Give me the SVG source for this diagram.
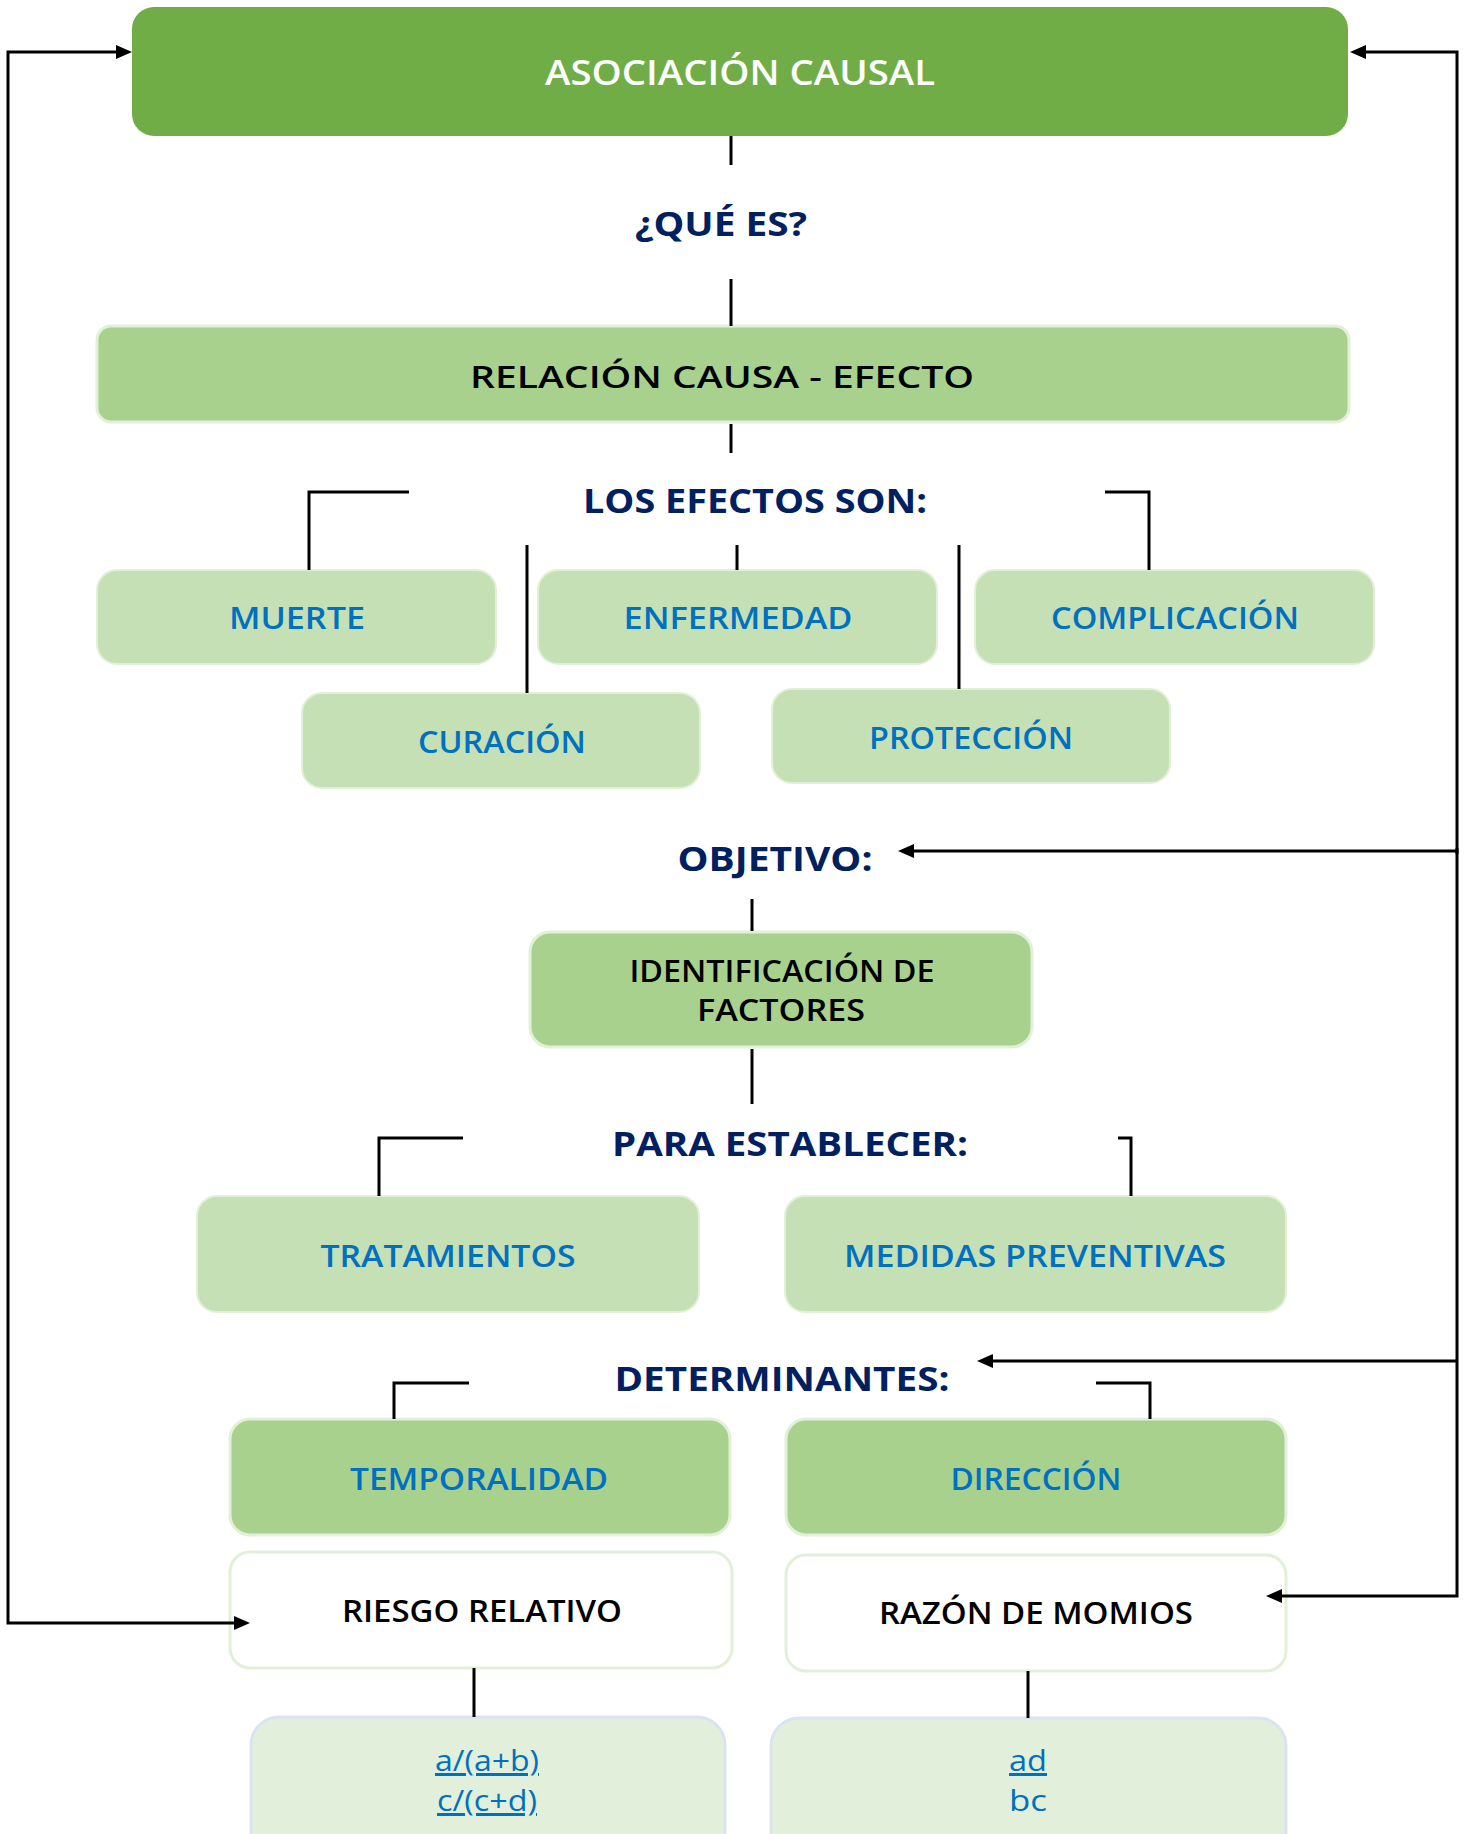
<svg xmlns="http://www.w3.org/2000/svg" width="1471" height="1834" viewBox="0 0 1471 1834">
<style>
text{font-family:"Open Sans","Noto Sans","Liberation Sans",sans-serif;text-anchor:middle}
.hd{fill:#002060;font-weight:700;font-size:34px}
.bl{fill:#0070C0;font-weight:600;font-size:31px}
.bk{fill:#000;font-weight:600;font-size:31px}
.fm{fill:#0070C0;font-weight:500;font-size:30px}
.ln{stroke:#000;stroke-width:3;fill:none}
.dark{fill:#A9D18E;stroke:#E2F0D9;stroke-width:3}
.light{fill:#C5E0B4;stroke:#E2F0D9;stroke-width:2}
.white{fill:#fff;stroke:#E2F0D9;stroke-width:3}
.frm{fill:#E2EFDA;stroke:#DAE3F3;stroke-width:3}
</style>
<defs>
<marker id="ah" markerWidth="16" markerHeight="14" refX="11" refY="7" orient="auto-start-reverse" markerUnits="userSpaceOnUse">
<path d="M0,0 L16,7 L0,14 z" fill="#000"/>
</marker>
</defs>

<g id="asociacion">
<rect x="132" y="7" width="1216" height="129" rx="22" fill="#70AD47"/>
<text x="740" y="85" font-size="35" font-weight="600" fill="#fff" textLength="390" lengthAdjust="spacingAndGlyphs">ASOCIACIÓN CAUSAL</text>
</g>
<g id="que-es"><text class="hd" x="721" y="236" font-size="35" textLength="172" lengthAdjust="spacingAndGlyphs">¿QUÉ ES?</text></g>
<g id="relacion">
<rect class="dark" x="97" y="326" width="1252" height="96" rx="14"/>
<text class="bk" x="722" y="388" font-size="33" textLength="504" lengthAdjust="spacingAndGlyphs">RELACIÓN CAUSA - EFECTO</text>
</g>
<g id="efectos"><text class="hd" x="755" y="513" textLength="344" lengthAdjust="spacingAndGlyphs">LOS EFECTOS SON:</text></g>
<g id="muerte">
<rect class="light" x="97" y="570" width="399" height="94" rx="20"/>
<text class="bl" x="297" y="629" textLength="136" lengthAdjust="spacingAndGlyphs">MUERTE</text>
</g>
<g id="enfermedad">
<rect class="light" x="538" y="570" width="399" height="94" rx="20"/>
<text class="bl" x="738" y="629" textLength="229" lengthAdjust="spacingAndGlyphs">ENFERMEDAD</text>
</g>
<g id="complicacion">
<rect class="light" x="975" y="570" width="399" height="94" rx="20"/>
<text class="bl" x="1175" y="629" textLength="248" lengthAdjust="spacingAndGlyphs">COMPLICACIÓN</text>
</g>
<g id="curacion">
<rect class="light" x="302" y="693" width="398" height="95" rx="20"/>
<text class="bl" x="502" y="753" textLength="168" lengthAdjust="spacingAndGlyphs">CURACIÓN</text>
</g>
<g id="proteccion">
<rect class="light" x="772" y="689" width="398" height="94" rx="20"/>
<text class="bl" x="971" y="749" textLength="204" lengthAdjust="spacingAndGlyphs">PROTECCIÓN</text>
</g>
<g id="objetivo"><text class="hd" x="775" y="871" textLength="195" lengthAdjust="spacingAndGlyphs">OBJETIVO:</text></g>
<g id="identificacion">
<rect class="dark" x="530" y="932" width="502" height="115" rx="20"/>
<text class="bk"><tspan x="782" y="982" textLength="305" lengthAdjust="spacingAndGlyphs">IDENTIFICACIÓN DE</tspan><tspan x="781" y="1021" textLength="168" lengthAdjust="spacingAndGlyphs">FACTORES</tspan></text>
</g>
<g id="para-establecer"><text class="hd" x="790" y="1156" textLength="356" lengthAdjust="spacingAndGlyphs">PARA ESTABLECER:</text></g>
<g id="tratamientos">
<rect class="light" x="197" y="1196" width="502" height="116" rx="20"/>
<text class="bl" x="448" y="1267" textLength="255" lengthAdjust="spacingAndGlyphs">TRATAMIENTOS</text>
</g>
<g id="medidas">
<rect class="light" x="785" y="1196" width="501" height="116" rx="20"/>
<text class="bl" x="1035" y="1267" textLength="382" lengthAdjust="spacingAndGlyphs">MEDIDAS PREVENTIVAS</text>
</g>
<g id="determinantes"><text class="hd" x="782" y="1391" textLength="335" lengthAdjust="spacingAndGlyphs">DETERMINANTES:</text></g>
<g id="temporalidad">
<rect class="dark" x="230" y="1419" width="500" height="116" rx="20"/>
<text class="bl" x="479" y="1490" textLength="258" lengthAdjust="spacingAndGlyphs">TEMPORALIDAD</text>
</g>
<g id="direccion">
<rect class="dark" x="786" y="1419" width="500" height="116" rx="20"/>
<text class="bl" x="1036" y="1490" textLength="171" lengthAdjust="spacingAndGlyphs">DIRECCIÓN</text>
</g>
<g id="riesgo">
<rect class="white" x="230" y="1552" width="502" height="116" rx="20"/>
<text class="bk" x="482" y="1622" textLength="280" lengthAdjust="spacingAndGlyphs">RIESGO RELATIVO</text>
</g>
<g id="razon">
<rect class="white" x="786" y="1555" width="500" height="116" rx="20"/>
<text class="bk" x="1036" y="1624" textLength="314" lengthAdjust="spacingAndGlyphs">RAZÓN DE MOMIOS</text>
</g>
<g id="formula-rr">
<rect class="frm" x="251" y="1717" width="474" height="150" rx="28"/>
<text class="fm" x="487" y="1771" text-decoration="underline" textLength="104" lengthAdjust="spacingAndGlyphs">a/(a+b)</text>
<text class="fm" x="487" y="1811" text-decoration="underline" textLength="100" lengthAdjust="spacingAndGlyphs">c/(c+d)</text>
</g>
<g id="formula-om">
<rect class="frm" x="771" y="1718" width="515" height="150" rx="28"/>
<text class="fm" x="1028" y="1771" text-decoration="underline" textLength="38" lengthAdjust="spacingAndGlyphs">ad</text>
<text class="fm" x="1028" y="1811" textLength="38" lengthAdjust="spacingAndGlyphs">bc</text>
</g>

<g id="connectors">
<path class="ln" d="M731,136 V165"/>
<path class="ln" d="M731,279 V326"/>
<path class="ln" d="M731,424 V453"/>
<path class="ln" d="M409,492 H309 V570"/>
<path class="ln" d="M1105,492 H1149 V570"/>
<path class="ln" d="M527,545 V693"/>
<path class="ln" d="M737,545 V570"/>
<path class="ln" d="M959,545 V689"/>
<path class="ln" d="M752,899 V931"/>
<path class="ln" d="M752,1049 V1104"/>
<path class="ln" d="M463,1138 H379 V1196"/>
<path class="ln" d="M1118,1138 H1131 V1196"/>
<path class="ln" d="M469,1383 H394 V1419"/>
<path class="ln" d="M1096,1383 H1150 V1419"/>
<path class="ln" d="M474,1668 V1717"/>
<path class="ln" d="M1028,1671 V1718"/>
<path class="ln" d="M127,52 H8 V1623 H245" stroke-width="3.5" marker-start="url(#ah)" marker-end="url(#ah)"/>
<path class="ln" d="M1355,52 H1457 V854" stroke-width="6" marker-start="url(#ah)"/>
<path class="ln" d="M1457,848 V1596 H1271" stroke-width="4.5" marker-end="url(#ah)"/>
<path class="ln" d="M1457,851 H903" marker-end="url(#ah)"/>
<path class="ln" d="M1457,1361 H982" stroke-width="4" marker-end="url(#ah)"/>
</g>
</svg>
